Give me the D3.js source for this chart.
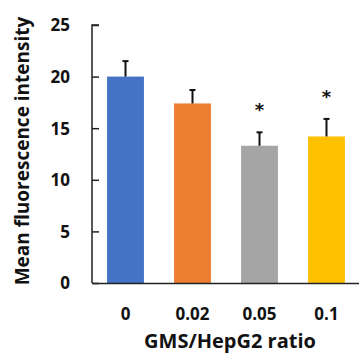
<!DOCTYPE html>
<html>
<head>
<meta charset="utf-8">
<script src="https://d3js.org/d3.v7.min.js"></script>
<style>
  body { margin: 0; background: #fff; font-family: 'Open Sans', sans-serif; }
  .axis text { font-family: 'Open Sans', sans-serif; font-weight: bold; font-size: 17px; fill: #111; }
  .title { font-weight: bold; fill: #111; }
</style>
</head>
<body>
<svg id="chart" width="359" height="353"></svg>
<script>
// data
const ratios = ["0", "0.02", "0.05", "0.1"];
const means = [20.0, 17.4, 13.3, 14.2];
const errors = [1.5, 1.3, 1.3, 1.7];
const significant = [false, false, true, true];
const colors = ["#4472C4", "#ED7D31", "#A5A5A5", "#FFC000"];
const yTicks = [0, 5, 10, 15, 20, 25];

const width = 359, height = 353;
const margin = { top: 25, right: 0, bottom: 70, left: 92 };

const svg = d3.select("#chart");

const x = d3.scaleBand()
  .domain(ratios)
  .range([margin.left, width - margin.right + 1])
  .paddingInner(0.45)
  .paddingOuter(0.225);

const y = d3.scaleLinear()
  .domain([0, 25])
  .range([283, margin.top]);

// bars
svg.selectAll(".bar")
  .data(ratios)
  .enter().append("rect")
  .attr("class", "bar")
  .attr("x", d => x(d))
  .attr("y", (d, i) => y(means[i]))
  .attr("width", x.bandwidth())
  .attr("height", (d, i) => y(0) - y(means[i]))
  .attr("fill", (d, i) => colors[i]);

// error bars (upper only)
const err = svg.append("g");
ratios.forEach((d, i) => {
  const cx = x(d) + x.bandwidth() / 2;
  err.append("line")
    .attr("x1", cx).attr("x2", cx)
    .attr("y1", y(means[i])).attr("y2", y(means[i] + errors[i]))
    .attr("stroke", "#111").attr("stroke-width", 2);
  err.append("line")
    .attr("x1", cx - 3).attr("x2", cx + 3)
    .attr("y1", y(means[i] + errors[i])).attr("y2", y(means[i] + errors[i]))
    .attr("stroke", "#111").attr("stroke-width", 2);
  if (significant[i]) {
    svg.append("text")
      .attr("x", cx)
      .attr("y", y(means[i] + errors[i]) - 16)
      .attr("text-anchor", "middle")
      .style("font-family", "'DejaVu Sans', sans-serif")
      .style("font-weight", "bold")
      .style("font-size", "18px")
      .attr("fill", "#111")
      .text("*");
  }
});

// y axis, ticks point inward
const yAxis = svg.append("g")
  .attr("class", "axis")
  .attr("transform", `translate(${margin.left},0)`)
  .call(d3.axisRight(y).tickValues(yTicks).tickSize(7).tickFormat(d3.format("d")));
yAxis.select(".domain").attr("stroke", "#222").attr("stroke-width", 1.5).attr("d", `M7,${y(25)}H0V${y(0)}`);
yAxis.selectAll(".tick line").attr("stroke", "#222").attr("stroke-width", 1.5);
yAxis.selectAll(".tick text")
  .attr("x", -22)
  .attr("text-anchor", "end")
  .attr("dy", "0.35em");

// x axis
const xAxis = svg.append("g")
  .attr("class", "axis")
  .attr("transform", `translate(0,${y(0)})`)
  .call(d3.axisBottom(x).tickSize(0));
xAxis.select(".domain").attr("stroke", "#222").attr("stroke-width", 1.5);
xAxis.selectAll(".tick text").attr("y", 31).attr("dy", "0.35em");

// axis titles
svg.append("text")
  .attr("class", "title")
  .attr("x", 230)
  .attr("y", 348)
  .attr("text-anchor", "middle")
  .style("font-size", "20px")
  .text("GMS/HepG2 ratio");

svg.append("text")
  .attr("class", "title")
  .attr("transform", `translate(22,${(y(0) + y(25)) / 2 - 3}) rotate(-90)`)
  .attr("dy", "0.35em")
  .attr("text-anchor", "middle")
  .style("font-size", "19px")
  .text("Mean fluorescence intensity");
</script>
</body>
</html>
